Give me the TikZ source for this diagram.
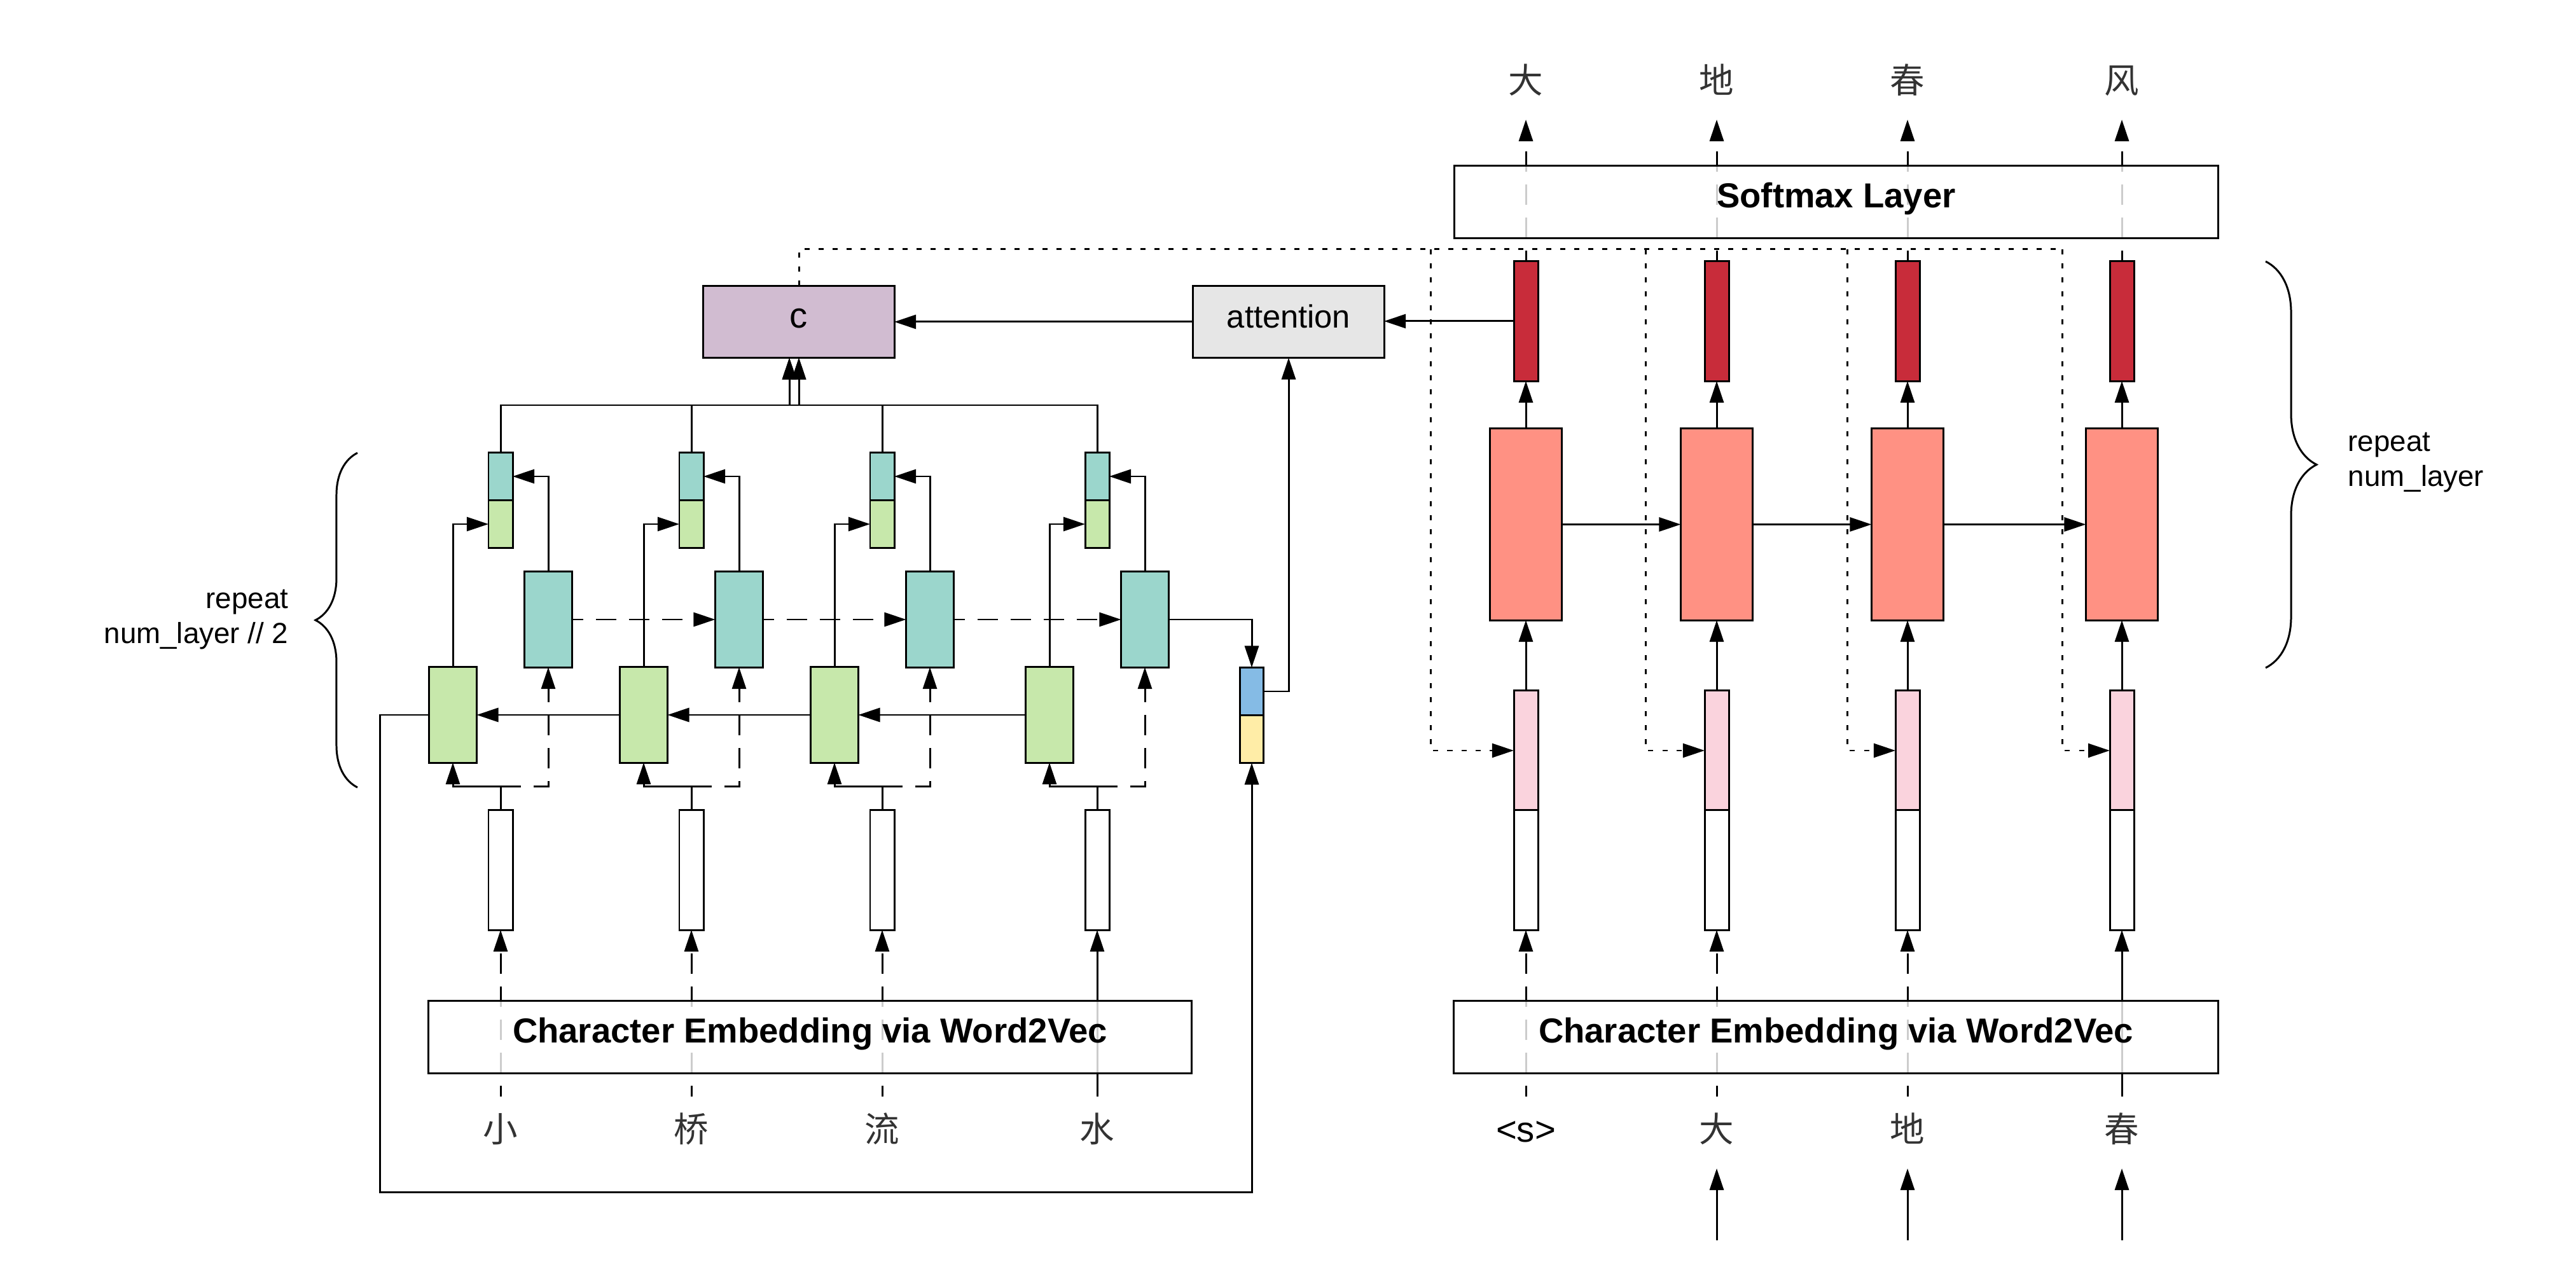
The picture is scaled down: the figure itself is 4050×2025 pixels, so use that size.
\documentclass[tikz,border=0pt]{standalone}
\usepackage{fontspec}
\setmainfont{Liberation Sans}
\newfontfamily\cjk{Noto Sans CJK SC}
\usetikzlibrary{arrows.meta,decorations.pathreplacing,calc}
\definecolor{cpurple}{HTML}{D1BCD1}
\definecolor{cgray}{HTML}{E6E6E6}
\definecolor{cteal}{HTML}{9BD6CC}
\definecolor{cgreen}{HTML}{C7E8AB}
\definecolor{cblue}{HTML}{85BBE5}
\definecolor{cyellow}{HTML}{FFEDA7}
\definecolor{cred}{HTML}{C82C3A}
\definecolor{csalmon}{HTML}{FF9183}
\definecolor{cpink}{HTML}{FAD3DD}
\definecolor{ctext}{HTML}{333333}
\begin{document}
\begin{tikzpicture}[x=0.01cm,y=-0.01cm,
  box/.style={draw=black,line width=0.85pt,inner sep=0pt,outer sep=0pt},
  cellS/.style={box,minimum width=0.38cm,minimum height=0.75cm},
  tallS/.style={box,minimum width=0.38cm,minimum height=1.88cm},
  rnn/.style={box,minimum width=0.75cm,minimum height=1.5cm},
  bigcell/.style={box,minimum width=1.13cm,minimum height=3.01cm},
  labelbox/.style={box,minimum width=3cm,minimum height=1.13cm,text height=0.2cm,text depth=0pt},
  widebox/.style={box,fill=white,fill opacity=0.8,text opacity=1,minimum height=1.13cm,text height=0.18cm,text depth=0pt,font=\fontsize{15.5}{18}\selectfont\bfseries},
  arr/.style={-{Triangle[length=0.34cm,width=0.22cm]},line width=0.85pt},
  plain/.style={line width=0.85pt},
  dsh/.style={dash pattern=on 0.32cm off 0.2cm,dash phase=0.15cm},
  dotln/.style={dash pattern=on 0.08cm off 0.14cm},
  zh/.style={font=\cjk\fontsize{15.5}{18}\selectfont,text=ctext,inner sep=0pt,outer sep=0pt,text height=0.45cm,text depth=0.05cm},
  lbl/.style={font=\fontsize{13}{15.9}\selectfont,inner sep=0pt}
]
\useasboundingbox (0,0) rectangle (4050,2025);
\fill[white] (0,0) rectangle (4050,2025);

% ---------------- left (encoder) ----------------
\node[labelbox,fill=cpurple,font=\fontsize{16}{19}\selectfont] (c) at (1256,506) {c};
\node[labelbox,fill=cgray,font=\fontsize{14.4}{17}\selectfont] (att) at (2026,506) {attention};

\foreach \i/\cx/\gx/\tx in {1/787/712/862, 2/1087/1012/1162, 3/1387/1312/1462, 4/1725/1650/1800} {
  \node[cellS,fill=cteal] (cT\i) at (\cx,749) {};
  \node[cellS,fill=cgreen] (cG\i) at (\cx,824) {};
  \node[rnn,fill=cteal] (t\i) at (\tx,974) {};
  \node[rnn,fill=cgreen] (g\i) at (\gx,1124) {};
  \node[tallS,fill=white] (w\i) at (\cx,1368) {};
}
\node[cellS,fill=cblue,minimum width=0.37cm] (bl) at (1968,1087) {};
\node[cellS,fill=cyellow,minimum width=0.37cm] (yl) at (1968,1162) {};

\node[zh] (x1) at (787,1775) {小};
\node[zh] (x2) at (1087,1775) {桥};
\node[zh] (x3) at (1387,1775) {流};
\node[zh] (x4) at (1725,1775) {水};

% ---------------- right (decoder) ----------------
\foreach \i/\rx in {1/2399,2/2699,3/2999,4/3336} {
  \node[tallS,fill=cred] (r\i) at (\rx,505) {};
  \node[bigcell,fill=csalmon] (s\i) at (\rx,824.5) {};
  \node[tallS,fill=cpink] (p\i) at (\rx,1180) {};
  \node[tallS,fill=white] (v\i) at (\rx,1368) {};
}
\node[zh] (o1) at (2399,126) {大};
\node[zh] (o2) at (2699,126) {地};
\node[zh] (o3) at (2999,126) {春};
\node[zh] (o4) at (3336,126) {风};
\node[zh,font=\fontsize{16}{19}\selectfont,text=black] (y1) at (2399,1775) {<s>};
\node[zh] (y2) at (2699,1775) {大};
\node[zh] (y3) at (2999,1775) {地};
\node[zh] (y4) at (3336,1775) {春};

\coordinate (b2) at (2699,1950);
\coordinate (b3) at (2999,1950);
\coordinate (b4) at (3336,1950);
\coordinate (d1) at (2249,392);
\coordinate (d2) at (2587,392);
\coordinate (d3) at (2904,392);
\coordinate (d4) at (3242,392);
\coordinate (busL) at (1241,637);
\coordinate (busR) at (1256,637);
\coordinate (lp) at (597,1874);

% ---------------- left connectors ----------------
\foreach \i in {1,2,3,4} {
  \draw[arr] (w\i.north) -- ++(0,-37) -| (g\i.south);
  \draw[arr,dsh] (w\i.north) -- ++(0,-37) -| (t\i.south);
  \draw[arr] (g\i.north) |- (cG\i.west);
  \draw[arr] (t\i.north) |- (cT\i.east);
}
\draw[arr,dsh] (t1.east) -- (t2.west);
\draw[arr,dsh] (t2.east) -- (t3.west);
\draw[arr,dsh] (t3.east) -- (t4.west);
\draw[arr] (t4.east) -| (bl.north);
\draw[arr] (bl.east) -| (att.south);
\draw[arr] (g4.west) -- (g3.east);
\draw[arr] (g3.west) -- (g2.east);
\draw[arr] (g2.west) -- (g1.east);
\draw[arr] (g1.west) -| (lp) -| (yl.south);

\draw[arr] (cT1.north) |- (busL) -- (busL |- c.south);
\draw[arr] (cT2.north) |- (busR) -- (busR |- c.south);
\draw[arr] (cT3.north) |- (busL) -- (busL |- c.south);
\draw[arr] (cT4.north) |- (busR) -- (busR |- c.south);
\draw[arr] (att.west) -- (c.east);

\draw[arr,dsh,shorten <=0.26cm] (x1.north) -- (w1.south);
\draw[arr,dsh,shorten <=0.26cm] (x2.north) -- (w2.south);
\draw[arr,dsh,shorten <=0.26cm] (x3.north) -- (w3.south);
\draw[arr,shorten <=0.26cm] (x4.north) -- (w4.south);

% ---------------- right connectors ----------------
\foreach \i in {1,2,3,4} {
  \draw[arr] (p\i.north) -- (s\i.south);
  \draw[arr] (s\i.north) -- (r\i.south);
  \draw[arr,dsh,shorten >=0.37cm] (r\i.north) -- (o\i.south);
  \draw[arr,dotln] (d\i) |- (p\i.west);
}
\draw[arr] (s1.east) -- (s2.west);
\draw[arr] (s2.east) -- (s3.west);
\draw[arr] (s3.east) -- (s4.west);
\draw[arr] (r1.west) -- (r1.west -| att.east);
\draw[plain,dotln] (c.north) |- (d4);

\draw[arr,dsh,shorten <=0.26cm] (y1.north) -- (v1.south);
\draw[arr,dsh,shorten <=0.26cm] (y2.north) -- (v2.south);
\draw[arr,dsh,shorten <=0.26cm] (y3.north) -- (v3.south);
\draw[arr,shorten <=0.26cm] (y4.north) -- (v4.south);
\draw[arr,shorten >=0.37cm] (b2) -- (y2.south);
\draw[arr,shorten >=0.37cm] (b3) -- (y3.south);
\draw[arr,shorten >=0.37cm] (b4) -- (y4.south);

% ---------------- wide semi-transparent boxes ----------------
\node[widebox,minimum width=11.99cm] (embL) at (1273.5,1630.5) {Character Embedding via Word2Vec};
\node[widebox,minimum width=12.01cm] (embR) at (2886.5,1630.5) {Character Embedding via Word2Vec};
\node[widebox,minimum width=12cm] (soft) at (2887,317.5) {Softmax Layer};

% ---------------- braces and labels ----------------
\draw[plain,decorate,decoration={brace,amplitude=0.66cm}] (562,1238) -- (562,712);
\draw[plain,decorate,decoration={brace,amplitude=0.8cm}] (3562,411) -- (3562,1050);
\node[lbl,anchor=east,align=right] (repL) at (454,974) {repeat\\num\_layer // 2};
\node[lbl,anchor=west,align=left] (repR) at (3691,727) {repeat\\num\_layer};
\end{tikzpicture}
\end{document}
